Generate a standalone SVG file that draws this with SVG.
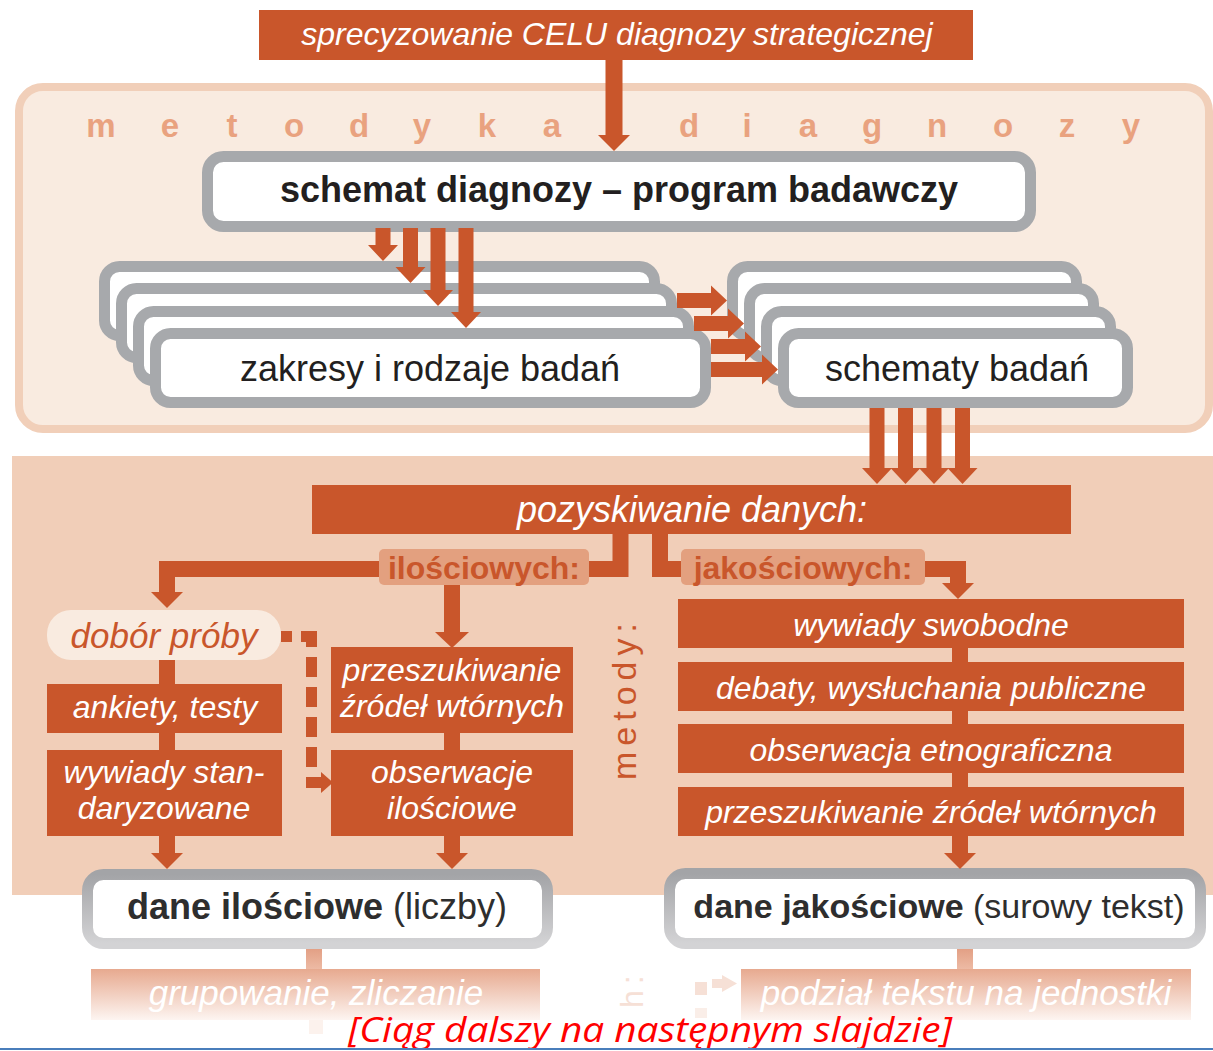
<svg xmlns="http://www.w3.org/2000/svg" width="1213" height="1051" viewBox="0 0 1213 1051">
<defs>
<linearGradient id="gg" x1="0" y1="0" x2="0" y2="1"><stop offset="0" stop-color="#A3A4A7"/><stop offset="1" stop-color="#D3D3D5"/></linearGradient>
<linearGradient id="fade" x1="0" y1="0" x2="0" y2="1"><stop offset="0" stop-color="#E7A98F"/><stop offset="1" stop-color="#FDF5F1"/></linearGradient>
<linearGradient id="stub" x1="0" y1="0" x2="0" y2="1"><stop offset="0" stop-color="#E3A085"/><stop offset="1" stop-color="#EDBAA4"/></linearGradient>
<style>
.o{fill:#C9562B}
.ln{fill:none;stroke:#C9562B;stroke-width:16;stroke-linejoin:miter}
.gb{fill:#FFFFFF;stroke:#A7A9AC;stroke-width:11}
.db{fill:#FFFFFF;stroke:url(#gg);stroke-width:11}
.t{font-family:"Liberation Sans",Arial,sans-serif}
.w{fill:#FFFFFF;font-style:italic;text-anchor:middle}
.k{fill:#231F20;text-anchor:middle}
.lab{fill:#E3A07F}
.lt{fill:#C9562B;font-weight:bold;font-size:32px;text-anchor:middle}
</style>
</defs>
<rect width="1213" height="1051" fill="#FFFFFF"/>
<!-- panels -->
<rect x="19" y="87" width="1190" height="342" rx="24" fill="#F9EBE0" stroke="#F1CFB9" stroke-width="8"/>
<rect x="12" y="456" width="1201" height="439" fill="#F1CEB8"/>
<text class="t" x="101 170 232 294 359 422 487 552 620 689 747 808 872 937 1003 1067 1131" y="137" font-size="33" font-weight="bold" fill="#E9A27F" text-anchor="middle">metodyka diagnozy</text>
<g class="t" transform="translate(636,780) rotate(-90)"><text x="0" y="0" font-size="34" fill="#C9562B" letter-spacing="6">metody:</text></g>

<g id="cel"><rect x="259" y="10" width="714" height="50" class="o"/><text class="t w" x="617" y="45" font-size="32">sprecyzowanie CELU diagnozy strategicznej</text></g>
<g id="schemat"><rect x="207.5" y="156.5" width="823" height="70" rx="16" class="gb"/><text class="t k" x="619" y="202" font-size="36" font-weight="bold">schemat diagnozy – program badawczy</text></g>
<g id="zakresy">
<rect x="104.5" y="266.5" width="550" height="69" rx="15" class="gb"/>
<rect x="121.5" y="288.5" width="550" height="69" rx="15" class="gb"/>
<rect x="138.5" y="311.5" width="550" height="69" rx="15" class="gb"/>
<rect x="155.5" y="333.5" width="550" height="69" rx="15" class="gb"/>
<text class="t k" x="430" y="381" font-size="36">zakresy i rodzaje badań</text>
</g>
<g id="schematy">
<rect x="732.5" y="266.5" width="344" height="69" rx="15" class="gb"/>
<rect x="749.5" y="288.5" width="344" height="69" rx="15" class="gb"/>
<rect x="766.5" y="311.5" width="344" height="69" rx="15" class="gb"/>
<rect x="783.5" y="333.5" width="344" height="69" rx="15" class="gb"/>
<text class="t k" x="957" y="381" font-size="36">schematy badań</text>
</g>
<g id="pozyskiwanie"><rect x="312" y="485" width="759" height="49" class="o"/><text class="t w" x="692" y="522" font-size="36">pozyskiwanie danych:</text></g>
<g id="dobor"><rect x="47" y="610" width="234" height="50" rx="24" fill="#F9EBE0"/><text class="t" x="164" y="648" font-size="35" font-style="italic" fill="#C9562B" text-anchor="middle">dobór próby</text></g>
<g id="ankiety"><rect x="47" y="684" width="235" height="49" class="o"/><text class="t w" x="165" y="718" font-size="32">ankiety, testy</text></g>
<g id="wywiady-std"><rect x="47" y="750" width="235" height="86" class="o"/><text class="t w" x="164" y="783" font-size="32">wywiady stan-</text><text class="t w" x="164" y="819" font-size="32">daryzowane</text></g>
<g id="przeszukiwanie-il"><rect x="331" y="647" width="242" height="86" class="o"/><text class="t w" x="452" y="681" font-size="32">przeszukiwanie</text><text class="t w" x="452" y="717" font-size="32">źródeł wtórnych</text></g>
<g id="obserwacje-il"><rect x="331" y="750" width="242" height="86" class="o"/><text class="t w" x="452" y="783" font-size="32">obserwacje</text><text class="t w" x="452" y="819" font-size="32">ilościowe</text></g>
<g id="wywiady-swob"><rect x="678" y="599" width="506" height="49" class="o"/><text class="t w" x="931" y="636" font-size="32">wywiady swobodne</text></g>
<g id="debaty"><rect x="678" y="662" width="506" height="49" class="o"/><text class="t w" x="931" y="699" font-size="32">debaty, wysłuchania publiczne</text></g>
<g id="etno"><rect x="678" y="724" width="506" height="49" class="o"/><text class="t w" x="931" y="761" font-size="32">obserwacja etnograficzna</text></g>
<g id="przeszukiwanie-jak"><rect x="678" y="787" width="506" height="49" class="o"/><text class="t w" x="931" y="823" font-size="32">przeszukiwanie źródeł wtórnych</text></g>
<g id="dane-il"><rect x="87.5" y="874.5" width="460" height="69" rx="16" class="db"/><text class="t" x="317" y="919" font-size="36" fill="#2E2E2E" text-anchor="middle"><tspan font-weight="bold">dane ilościowe</tspan> (liczby)</text></g>
<g id="dane-jak"><rect x="669.5" y="873.5" width="531" height="70" rx="16" class="db"/><text class="t" x="939" y="918" font-size="34" fill="#2E2E2E" text-anchor="middle"><tspan font-weight="bold">dane jakościowe</tspan> (surowy tekst)</text></g>
<g id="grupowanie"><rect x="91" y="969" width="449" height="51" fill="url(#fade)"/><text class="t w" x="316" y="1005" font-size="35">grupowanie, zliczanie</text></g>
<g id="podzial"><rect x="741" y="969" width="450" height="51" fill="url(#fade)"/><text class="t w" x="966" y="1005" font-size="35">podział tekstu na jednostki</text></g>
<g class="t" transform="translate(643,1008) rotate(-90)"><text x="0" y="0" font-size="32" fill="#F6E0D6" letter-spacing="6">h:</text></g>

<g id="connectors">
<path class="o" d="M605.5,60 V135 H598 L614,151 L630,135 H622.5 V60 Z"/>
<path class="o" d="M375.5,228 V245 H368 L383,261 L398,245 H390.5 V228 Z"/>
<path class="o" d="M403,228 V267 H395.5 L410.5,283 L425.5,267 H418 V228 Z"/>
<path class="o" d="M430.5,228 V290 H423 L438,306 L453,290 H445.5 V228 Z"/>
<path class="o" d="M458.5,228 V312 H451 L466,328 L481,312 H473.5 V228 Z"/>
<path class="o" d="M677,293 H711 V285.5 L727,300.5 L711,315.5 V308 H677 Z"/>
<path class="o" d="M694,316 H728 V308.5 L744,323.5 L728,338.5 V331 H694 Z"/>
<path class="o" d="M711,339 H745 V331.5 L761,346.5 L745,361.5 V354 H711 Z"/>
<path class="o" d="M711,362 H762 V354.5 L778,369.5 L762,384.5 V377 H711 Z"/>
<path class="o" d="M869.5,408 V468 H862 L877,484 L892,468 H884.5 V408 Z"/>
<path class="o" d="M898,408 V468 H890.5 L905.5,484 L920.5,468 H913 V408 Z"/>
<path class="o" d="M926.5,408 V468 H919 L934,484 L949,468 H941.5 V408 Z"/>
<path class="o" d="M955,408 V468 H947.5 L962.5,484 L977.5,468 H970 V408 Z"/>
<path class="ln" d="M620.5,534 V569 H167 V594"/>
<path class="o" d="M151,592 H183 L167,608 Z"/>
<path class="ln" d="M452,569 V633"/>
<path class="o" d="M435,632 H469 L452,648 Z"/>
<path class="ln" d="M660,534 V569 H958 V585"/>
<path class="o" d="M942,583 H974 L958,599 Z"/>
<path class="ln" d="M960,648 V662 M960,711 V724 M960,773 V787 M960,836 V855"/>
<path class="o" d="M944,853 H976 L960,869 Z"/>
<path class="ln" d="M167,660 V684 M167,733 V750 M167,836 V855"/>
<path class="o" d="M151,853 H183 L167,869 Z"/>
<path class="ln" d="M452,733 V750 M452,836 V855"/>
<path class="o" d="M436,853 H468 L452,869 Z"/>
<path d="M281,636.5 H311.5 V782.5 H322" fill="none" stroke="#C9562B" stroke-width="11" stroke-dasharray="11 9 21 10 20 10 20 10 20 10 20 10 60"/>
<path class="o" d="M321,772 L333,782.5 L321,793 Z"/>
<rect x="306" y="949" width="16" height="20" fill="url(#stub)"/>
<rect x="957" y="949" width="16" height="20" fill="url(#stub)"/>
<rect x="309" y="1020" width="14" height="14" fill="#FCF2ED"/>
<rect x="695" y="982" width="12" height="13" fill="#F6E0D6"/>
<rect x="695" y="1008" width="12" height="10" fill="#FAEEE8"/>
<rect x="712" y="979" width="11" height="9" fill="#F6E0D6"/>
<path d="M722,975 L737,983.5 L722,992 Z" fill="#F6E0D6"/>
</g>

<g id="ilosciowych"><rect x="379" y="549" width="210" height="36" rx="5" class="lab"/><text class="t lt" x="484" y="579">ilościowych:</text></g>
<g id="jakosciowych"><rect x="681" y="549" width="244" height="36" rx="5" class="lab"/><text class="t lt" x="803" y="579">jakościowych:</text></g>

<text x="348" y="1042" font-family="'Open Sans','Noto Sans',sans-serif" font-style="italic" font-size="34" fill="#FF0000" textLength="604" lengthAdjust="spacingAndGlyphs">[Ciąg dalszy na następnym slajdzie]</text>
<rect x="0" y="1048" width="1213" height="3" fill="#FFFFFF"/>
<rect x="0" y="1048" width="1213" height="2" fill="#4A7EBB"/>
</svg>
